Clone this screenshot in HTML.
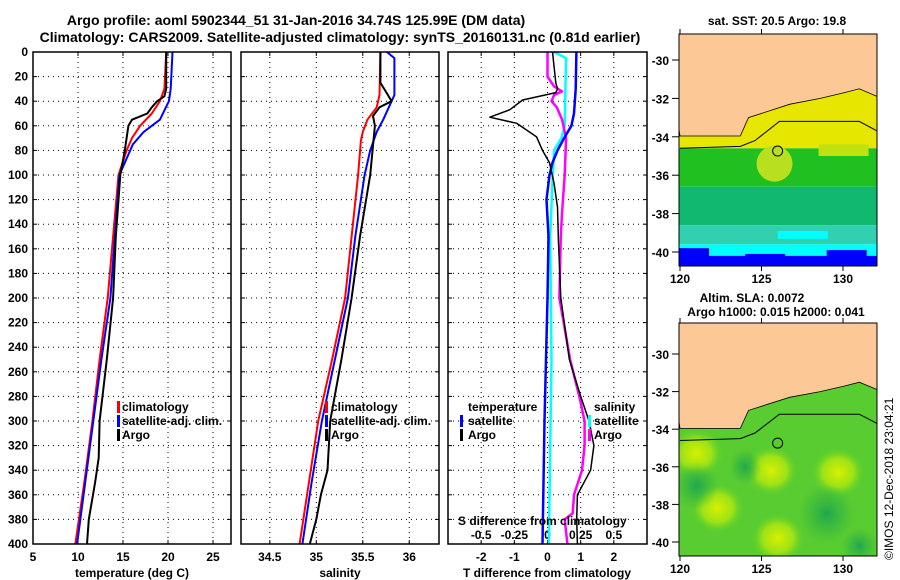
<!DOCTYPE html>
<html><head><meta charset="utf-8">
<style>
html,body{margin:0;padding:0;background:#fff;}
svg{display:block;font-family:"Liberation Sans",Arial,sans-serif;font-weight:bold;}
</style></head>
<body>
<svg id="fig" width="900" height="580" viewBox="0 0 900 580" xmlns="http://www.w3.org/2000/svg">
<defs>
<radialGradient id="yb" cx="50%" cy="50%" r="50%"><stop offset="0%" stop-color="#d8f000"/><stop offset="55%" stop-color="#b0e810" stop-opacity="0.8"/><stop offset="100%" stop-color="#50cc30" stop-opacity="0"/></radialGradient>
<radialGradient id="db" cx="50%" cy="50%" r="50%"><stop offset="0%" stop-color="#20a850"/><stop offset="100%" stop-color="#30b040" stop-opacity="0"/></radialGradient>
<clipPath id="clipTop"><rect x="679" y="34" width="198" height="232"/></clipPath>
<clipPath id="clipBot"><rect x="679" y="323" width="198" height="233"/></clipPath>
</defs>
<text x="296" y="25" font-size="14" text-anchor="middle">Argo profile: aoml 5902344_51 31-Jan-2016 34.74S 125.99E (DM data)</text>
<text x="340" y="42" font-size="14" text-anchor="middle">Climatology: CARS2009. Satellite-adjusted climatology: synTS_20160131.nc (0.81d earlier)</text>
<g id="plots"></g>
<g id="maps"></g>
<text x="0" y="0" font-size="12" font-weight="normal" transform="translate(893,560) rotate(-90)">©IMOS 12-Dec-2018 23:04:21</text>
</svg>
<script>
// ---------- data ----------
const depthTicks = [0,20,40,60,80,100,120,140,160,180,200,220,240,260,280,300,320,340,360,380,400];
const tempTicks = [5,10,15,20,25];
const salTicks = [34.5,35,35.5,36];
const salTickLabels = ["34.5","35","35.5","36"];
const tdiffTicks = [-2,-1,0,1,2];
const sdiffTicks = [-0.5,-0.25,0,0.25,0.5];
const sdiffTickLabels = ["-0.5","-0.25","0","0.25","0.5"];

const climTDepth = [0,30,40,50,60,70,80,100,150,200,250,300,350,400];
const climTVal   = [19.8,19.6,19.1,18.2,16.9,16.0,15.4,14.5,13.9,13.3,12.4,11.6,10.7,9.7];
const satTDepth  = [0,30,40,55,65,75,90,100,150,200,250,300,350,400];
const satTVal    = [20.5,20.3,20.1,19.1,17.3,16.1,15.2,14.6,14.1,13.6,12.6,11.7,10.8,9.9];
const argoTDepth = [0,30,36,40,45,50,55,60,80,100,150,200,250,300,330,350,380,400];
const argoTVal   = [19.8,19.8,19.6,18.8,18.2,17.7,16.0,15.6,15.2,14.7,14.2,13.9,13.2,12.4,12.3,11.9,11.2,11.0];

const climSDepth = [0,35,45,55,65,72,100,150,200,250,300,350,400];
const climSVal   = [35.69,35.68,35.65,35.55,35.50,35.48,35.45,35.38,35.31,35.17,35.02,34.92,34.82];
const satSDepth  = [0,5,35,40,55,65,80,100,150,200,250,300,350,400];
const satSVal    = [35.76,35.84,35.84,35.81,35.72,35.65,35.58,35.52,35.42,35.34,35.20,35.06,34.95,34.85];
const argoSDepth = [0,25,35,40,45,52,60,100,150,200,250,300,340,360,380,400];
const argoSVal   = [35.69,35.69,35.77,35.81,35.68,35.61,35.63,35.58,35.47,35.38,35.27,35.15,35.12,35.05,35.0,34.93];

const argoTdDepth = [0,25,30,33,39,47,53,58,69,80,90,107,126,153,200,250,280,300,320,340,360,380,400];
const argoTdVal   = [0.15,0.25,0.3,0.25,-0.75,-1.14,-1.74,-0.93,-0.33,-0.15,0.06,0.2,0.3,0.33,0.4,0.66,1.0,1.25,1.4,1.3,0.9,0.88,0.9];
const satTdDepth  = [0,30,50,60,70,80,90,100,120,150,200,300,400];
const satTdVal    = [0.87,0.85,0.8,0.72,0.5,0.3,0.15,0.06,-0.03,0.03,0.0,-0.09,-0.15];
const satSdDepth  = [0,5,30,60,70,80,100,150,250,400];
const satSdVal    = [0.05,0.14,0.135,0.13,0.105,0.05,0.04,0.02,0.03,0.01];
const argoSdDepth = [0,20,28,32,35,40,45,55,70,100,130,150,200,250,280,300,320,340,350,360,375,380,400];
const argoSdVal   = [0,0,0.05,0.11,0.05,0.03,0.07,0.11,0.14,0.13,0.11,0.1,0.09,0.17,0.24,0.28,0.28,0.26,0.23,0.2,0.19,0.13,0.15];

// map data
const latTicks = [-30,-32,-34,-36,-38,-40];
const lonTicks = [120,125,130];
const coastLon = [120,123.7,124.2,126.75,128.6,130.1,131.0,132.1];
const coastLat = [-33.96,-33.96,-33.0,-32.3,-32.0,-31.7,-31.5,-31.9];
const contourLon = [120,123.7,124.6,126.1,131.0,132.1];
const contourLat = [-34.6,-34.5,-34.2,-33.2,-33.2,-33.7];
const floatLon = 125.99, floatLat = -34.74;
const slaBlobLon = [125.6,129.7,122.3,126.0,121.0];
const slaBlobLat = [-36.2,-36.3,-38.2,-39.8,-35.3];

// ---------- helpers ----------
const NS = "http://www.w3.org/2000/svg";
function mk(tag, attrs, parent){
  const e = document.createElementNS(NS, tag);
  for (const k in attrs) e.setAttribute(k, attrs[k]);
  parent.appendChild(e);
  return e;
}
const plots = document.getElementById('plots');
const maps = document.getElementById('maps');
const top0 = 52, bot0 = 544;
const yD = d => top0 + (d/400)*(bot0-top0);
const panels = [
  {name:'temperature', x0:33, x1:231, v0:5, v1:27},
  {name:'salinity', x0:241, x1:439, v0:34.19, v1:36.32},
  {name:'difference', x0:448, x1:647, v0:-3, v1:3}
];
function xf(p){ return v => p.x0 + (v-p.v0)/(p.v1-p.v0)*(p.x1-p.x0); }
const xT = xf(panels[0]), xS = xf(panels[1]), xTd = xf(panels[2]);
const xSd = v => xTd(v*4);

panels.forEach((p,i)=>{
  const g = mk('g',{},plots);
  
  
  depthTicks.forEach(d=>{
    if(d===0||d===400) return;
    const l = mk('line',{x1:p.x0,x2:p.x1,y1:yD(d),y2:yD(d),stroke:'#000','stroke-width':1,'stroke-dasharray':'1,4'},g);
    
    
    mk('line',{x1:p.x0,x2:p.x0+4,y1:yD(d),y2:yD(d),stroke:'#000'},g);
    mk('line',{x1:p.x1-4,x2:p.x1,y1:yD(d),y2:yD(d),stroke:'#000'},g);
  });
});

function vgrid(ticks, xfun, p, labels, ly, name){
  const g = mk('g',{},plots);
  
  
  ticks.forEach((t,i)=>{
    const x = xfun(t);
    if (x > p.x0+2 && x < p.x1-2){
      mk('line',{x1:x,x2:x,y1:top0,y2:bot0,stroke:'#000','stroke-dasharray':'1,4'},g);
      mk('line',{x1:x,x2:x,y1:bot0-4,y2:bot0,stroke:'#000'},g);
      mk('line',{x1:x,x2:x,y1:top0,y2:top0+4,stroke:'#000'},g);
    }
    if (ly){
      const tx = mk('text',{x:x,y:ly,'font-size':12,'text-anchor':'middle'},g);
      tx.textContent = labels ? labels[i] : String(t);
      
      
    }
  });
}
vgrid(tempTicks, xT, panels[0], null, 561, 'temperature-x-axis');
vgrid(salTicks, xS, panels[1], salTickLabels, 561, 'salinity-x-axis');
vgrid(tdiffTicks, xTd, panels[2], null, 561, 'tdiff-x-axis');
sdiffTicks.forEach((t,i)=>{
  const tx = mk('text',{x:xSd(t),y:539,'font-size':12,'text-anchor':'middle'},plots);
  tx.textContent = sdiffTickLabels[i];
  
  
});

depthTicks.forEach(d=>{
  const tx = mk('text',{x:28,y:yD(d)+4,'font-size':12,'text-anchor':'end'},plots);
  tx.textContent = d;
  
  
});

function series(dep, val, xfun, color, w, name){
  let pts = dep.map((d,i)=> xfun(val[i]).toFixed(1)+','+yD(d).toFixed(1)).join(' ');
  const pl = mk('polyline',{points:pts,fill:'none',stroke:color,'stroke-width':w,'stroke-linejoin':'round'},plots);
  
  
}
series(climTDepth, climTVal, xT, '#ff0000', 2, 'climatology-temperature-line');
series(satTDepth, satTVal, xT, '#0000ff', 2, 'satellite-temperature-line');
series(argoTDepth, argoTVal, xT, '#000000', 2, 'argo-temperature-line');
series(climSDepth, climSVal, xS, '#ff0000', 2, 'climatology-salinity-line');
series(satSDepth, satSVal, xS, '#0000ff', 2, 'satellite-salinity-line');
series(argoSDepth, argoSVal, xS, '#000000', 2, 'argo-salinity-line');
series(satSdDepth, satSdVal, xSd, '#00ffff', 2.5, 'satellite-sdiff-line');
series(argoSdDepth, argoSdVal, xSd, '#ff00ff', 2.5, 'argo-sdiff-line');
series(satTdDepth, satTdVal, xTd, '#0000ff', 2.5, 'satellite-tdiff-line');
series(argoTdDepth, argoTdVal, xTd, '#000000', 1.5, 'argo-tdiff-line');

panels.forEach(p=>{
  const r = mk('rect',{x:p.x0,y:top0,width:p.x1-p.x0,height:bot0-top0,fill:'none',stroke:'#000','stroke-width':1.5},plots);
  
  
});

function txt(s,x,y,size,name,anchor,parent){
  const t = mk('text',{x:x,y:y,'font-size':size,'text-anchor':anchor||'start'},parent||plots);
  t.textContent = s;
  
  
  return t;
}
function bar(x,y,color,name){
  const r = mk('rect',{x:x,y:y-10,width:3,height:12,fill:color},plots);
  
  
}
txt('temperature (deg C)',132,577,12,'temperature-axis-title','middle');
txt('salinity',340,577,12,'salinity-axis-title','middle');
txt('T difference from climatology',547,577,12,'tdiff-axis-title','middle');
txt('S difference from climatology',458,525,12,'sdiff-axis-title','start');
bar(117,411,'#ff0000','legend-climatology-swatch'); txt('climatology',122,411,12,'legend-climatology');
bar(117,425,'#0000ff','legend-satellite-swatch'); txt('satellite-adj. clim.',122,425,12,'legend-satellite');
bar(117,439,'#000','legend-argo-swatch'); txt('Argo',122,439,12,'legend-argo');
bar(325,411,'#ff0000','legend2-climatology-swatch'); txt('climatology',331,411,12,'legend2-climatology');
bar(325,425,'#0000ff','legend2-satellite-swatch'); txt('satellite-adj. clim.',331,425,12,'legend2-satellite');
bar(325,439,'#000','legend2-argo-swatch'); txt('Argo',331,439,12,'legend2-argo');
txt('temperature',468,411,12,'legend-temperature-heading');
bar(460,425,'#0000ff','legend-t-satellite-swatch'); txt('satellite',468,425,12,'legend-t-satellite');
bar(460,439,'#000','legend-t-argo-swatch'); txt('Argo',468,439,12,'legend-t-argo');
txt('salinity',594,411,12,'legend-salinity-heading');
bar(588,425,'#00ffff','legend-s-satellite-swatch'); txt('satellite',594,425,12,'legend-s-satellite');
bar(588,439,'#ff00ff','legend-s-argo-swatch'); txt('Argo',594,439,12,'legend-s-argo');

// ---------- maps ----------
function mapScale(y0,yr){
  return {x: lon => 680 + (lon-120)*16.3, y: lat => y0 + (-30-lat)*yr};
}
function poly(lons,lats,s){ return lons.map((l,i)=> s.x(l).toFixed(1)+','+s.y(lats[i]).toFixed(1)).join(' '); }
function drawMap(kind, y0, yr, top, bottom, clip, titles){
  const s = mapScale(y0,yr);
  const g = mk('g',{'clip-path':'url(#'+clip+')'},maps);
  
  
  if (kind==='sst'){
    const bands = [[-28,-34.6,'#e6e600'],[-34.6,-36.6,'#20c020'],[-36.6,-38.6,'#10b870'],[-38.6,-39.6,'#30d0b0'],[-39.6,-40.2,'#00ffff'],[-40.2,-42,'#0000ff']];
    bands.forEach(b=>{
      mk('rect',{x:679,y:s.y(b[0]),width:198,height:s.y(b[1])-s.y(b[0]),fill:b[2]},g);
    });
    mk('ellipse',{cx:s.x(125.8),cy:s.y(-35.4),rx:18,ry:18,fill:'#b8e020'},g);
    mk('rect',{x:s.x(128.5),y:s.y(-34.4),width:50,height:s.y(-35)-s.y(-34.4),fill:'#c0e010'},g);
    mk('rect',{x:679,y:s.y(-39.8),width:30,height:16,fill:'#0000ff'},g);
    mk('rect',{x:s.x(124),y:s.y(-40.1),width:40,height:12,fill:'#0000ff'},g);
    mk('rect',{x:s.x(129),y:s.y(-39.9),width:40,height:10,fill:'#0000ff'},g);
    mk('rect',{x:s.x(126),y:s.y(-38.9),width:50,height:8,fill:'#00ffff'},g);
  } else {
    mk('rect',{x:679,y:top,width:198,height:bottom-top,fill:'#58cc30'},g);
    slaBlobLon.forEach((lo,i)=>{
      const e = mk('ellipse',{cx:s.x(lo),cy:s.y(slaBlobLat[i]),rx:28,ry:26,fill:'url(#yb)'},g);
      
      
    });
    mk('ellipse',{cx:s.x(129),cy:s.y(-38.5),rx:28,ry:30,fill:'url(#db)'},g);
    mk('ellipse',{cx:s.x(121),cy:s.y(-37),rx:22,ry:24,fill:'url(#db)'},g);
    mk('ellipse',{cx:s.x(124),cy:s.y(-36),rx:16,ry:18,fill:'url(#db)'},g);
    mk('ellipse',{cx:s.x(131),cy:s.y(-40.2),rx:18,ry:18,fill:'url(#db)'},g);
  }
  const land = mk('polygon',{points: s.x(119)+','+(top-5)+' '+poly(coastLon,coastLat,s)+' '+s.x(133)+','+s.y(-31.9)+' '+s.x(133)+','+(top-5),fill:'#fcc896',stroke:'#000','stroke-width':0.8},g);
  
  
  const ct = mk('polyline',{points:poly(contourLon,contourLat,s),fill:'none',stroke:'#000','stroke-width':1},g);
  
  
  const fc = mk('circle',{cx:s.x(floatLon),cy:s.y(floatLat),r:5,fill:'none',stroke:'#000','stroke-width':1},g);
  
  
  const fr = mk('rect',{x:679,y:top,width:198,height:bottom-top,fill:'none',stroke:'#000','stroke-width':1},maps);
  
  
  latTicks.forEach(l=>{
    const y = s.y(l);
    mk('line',{x1:672,x2:679,y1:y,y2:y,stroke:'#000'},maps);
    txt(String(l),669,y+5,12,'latitude-tick-label','end',maps);
  });
  lonTicks.forEach(l=>{
    const x = s.x(l);
    mk('line',{x1:x,x2:x,y1:bottom,y2:bottom+5,stroke:'#000'},maps);
    mk('line',{x1:x,x2:x,y1:top-5,y2:top,stroke:'#000'},maps);
    txt(String(l),x,bottom+17,12,'longitude-tick-label','middle',maps);
  });
  titles.forEach(t=>{ txt(t[0],t[1],t[2],12,kind+'-map-title','middle',maps); });
}
drawMap('sst', 60, 19.2, 34, 266, 'clipTop', [['sat. SST: 20.5 Argo: 19.8',777,25]]);
drawMap('sla', 354, 18.8, 323, 556, 'clipBot', [['Altim. SLA: 0.0072',752,302],['Argo h1000: 0.015 h2000: 0.041',776,316]]);
</script>
</body></html>
